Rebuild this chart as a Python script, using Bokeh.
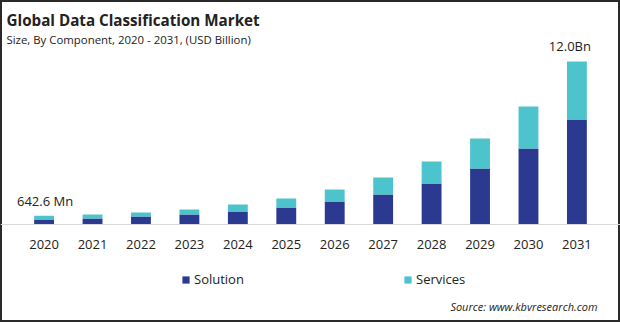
from bokeh.plotting import figure
from bokeh.models import (ColumnDataSource, FactorRange, Range1d, Span, Label,
                          Legend, LegendItem, InlineStyleSheet)
from bokeh.core.properties import value
from bokeh.embed import file_html
from bokeh.resources import INLINE

years = ["2020", "2021", "2022", "2023", "2024", "2025",
         "2026", "2027", "2028", "2029", "2030", "2031"]
solution = [0.37, 0.44, 0.59, 0.74, 0.96, 1.25, 1.69, 2.21, 3.02, 4.12, 5.60, 7.73]
services = [0.2726, 0.30, 0.29, 0.36, 0.51, 0.66, 0.89, 1.25, 1.62, 2.21, 3.09, 4.27]
series = ["Solution", "Services"]
colors = ["#2B3990", "#4DC3CC"]
title_text = "Global Data Classification Market"
subtitle_text = "Size, By Component,  2020 - 2031, (USD Billion)"
source_text = "Source: www.kbvresearch.com"
end_labels = ["642.6 Mn", "12.0Bn"]

FONT = "Open Sans"
TXT = "#222222"

totals = [a + b for a, b in zip(solution, services)]

src = ColumnDataSource(data=dict(year=years, Solution=solution, Services=services))

# frame covers the whole canvas; baseline sits 224 px from the top
p = figure(width=620, height=322,
           x_range=FactorRange(*years, range_padding=0.8 / 12),
           y_range=Range1d(-7.215, 16.49), output_backend="svg", toolbar_location=None,
           min_border=0)
p.border_fill_color = None
p.background_fill_color = None
p.outline_line_color = None
p.grid.visible = False
p.axis.visible = False

renderers = p.vbar_stack(series, x="year", width=0.41, source=src,
                         color=colors, line_color=None)

p.add_layout(Span(location=0, dimension="width", line_color="#D9D9D9", line_width=1))

# year labels under the baseline
p.text(x="year", y=0, text="year", y_offset=20, source=src,
       text_align="center", text_baseline="middle", text_font=value(FONT),
       text_font_size="13px", text_color=TXT)

lab_src = ColumnDataSource(data=dict(x=[years[0], years[-1]],
                                     y=[totals[0], totals[-1]],
                                     t=end_labels,
                                     dx=[1, -7]))
p.text(x="x", y="y", text="t", x_offset="dx", y_offset=-6, source=lab_src,
       text_align="center", text_baseline="bottom", text_font=value(FONT),
       text_font_size="13px", text_color=TXT)

p.add_layout(Label(x=6, y=303, x_units="screen", y_units="screen", text=title_text,
                   text_font=FONT, text_font_size="15.2px", text_font_style="bold",
                   text_color=TXT, text_baseline="middle"))
p.add_layout(Label(x=6, y=283, x_units="screen", y_units="screen", text=subtitle_text,
                   text_font=FONT, text_font_size="11.4px",
                   text_color=TXT, text_baseline="middle"))
p.add_layout(Label(x=597, y=16, x_units="screen", y_units="screen", text=source_text,
                   text_font=FONT, text_font_size="11px", text_font_style="italic",
                   text_color=TXT, text_baseline="middle", text_align="right"))

for r, name, vx in zip(renderers, series, [181, 403]):
    leg = Legend(items=[LegendItem(label=name, renderers=[r])], location=(vx, 34),
                 orientation="horizontal", padding=0, margin=0, border_line_color=None,
                 background_fill_color=None, background_fill_alpha=0,
                 glyph_width=9, glyph_height=9,
                 label_standoff=4, label_text_font=FONT, label_text_font_size="13px",
                 label_text_color=TXT)
    p.add_layout(leg)

p.stylesheets = [InlineStyleSheet(css=":host { outline: 2px solid #2a2a2a; outline-offset: -2px; }")]

open("out.html", "w").write(file_html(p, INLINE))
